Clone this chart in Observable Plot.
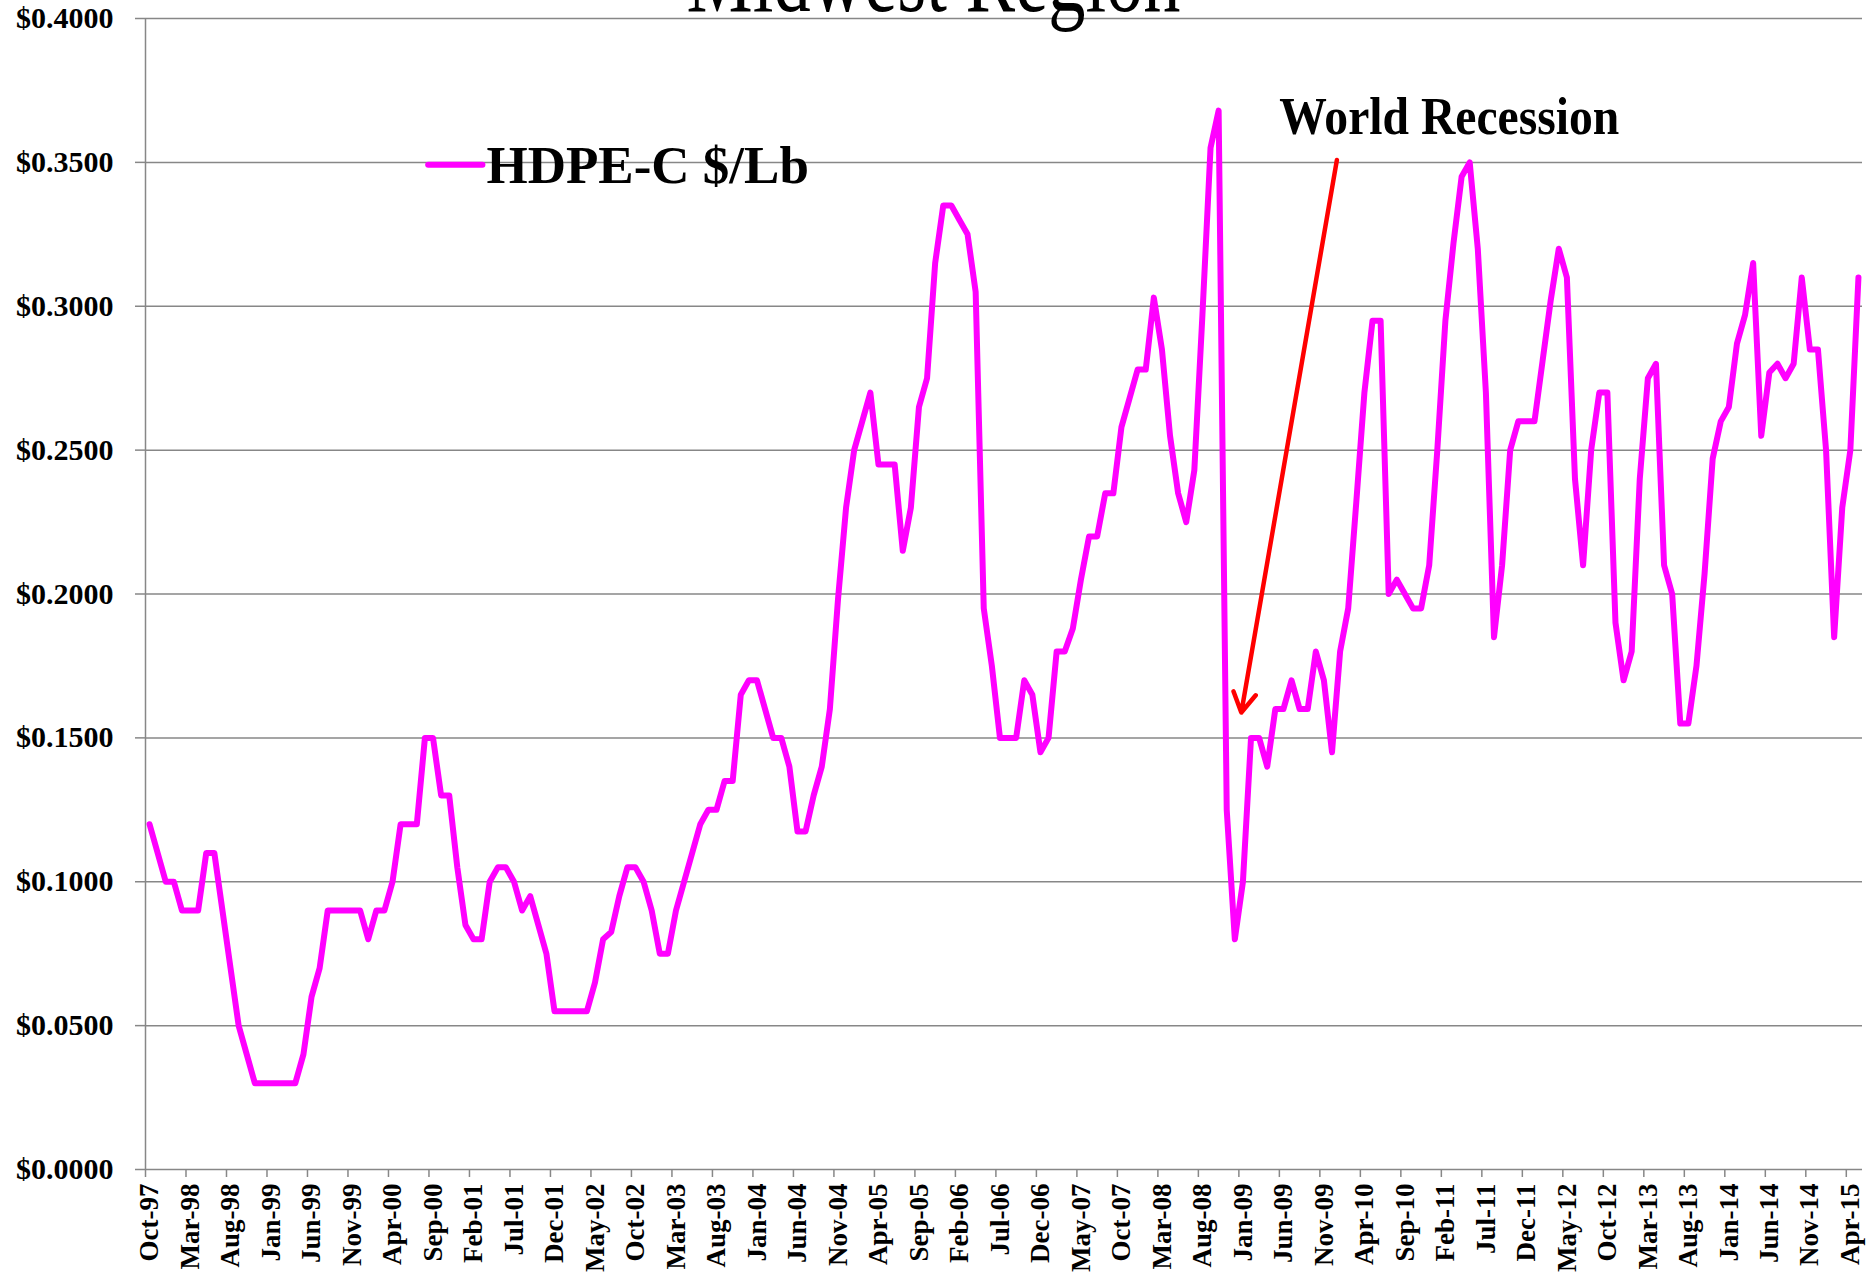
<!DOCTYPE html>
<html>
<head>
<meta charset="utf-8">
<script src="https://cdn.jsdelivr.net/npm/d3@7"></script>
<script src="https://cdn.jsdelivr.net/npm/@observablehq/plot@0.6"></script>
<style>
  html, body { margin: 0; padding: 0; background: #ffffff; overflow: hidden; }
  #chart svg { display: block; }
</style>
</head>
<body>
<div id="chart"></div>
<script>
// ---------- DATA ----------
// Monthly categories Oct-97 .. May-15 (212 months)
const months = d3.utcMonths(new Date(Date.UTC(1997, 9, 1)), new Date(Date.UTC(2015, 5, 1)))
  .map(d3.utcFormat("%b-%y"));

// HDPE-C price, $/Lb
const hdpe = [
  0.12, 0.11, 0.10, 0.10, 0.09, 0.09, 0.09, 0.11, 0.11, 0.09,
  0.07, 0.05, 0.04, 0.03, 0.03, 0.03, 0.03, 0.03, 0.03, 0.04,
  0.06, 0.07, 0.09, 0.09, 0.09, 0.09, 0.09, 0.08, 0.09, 0.09,
  0.10, 0.12, 0.12, 0.12, 0.15, 0.15, 0.13, 0.13, 0.105, 0.085,
  0.08, 0.08, 0.10, 0.105, 0.105, 0.10, 0.09, 0.095, 0.085, 0.075,
  0.055, 0.055, 0.055, 0.055, 0.055, 0.065, 0.08, 0.0825, 0.095, 0.105,
  0.105, 0.10, 0.09, 0.075, 0.075, 0.09, 0.10, 0.11, 0.12, 0.125,
  0.125, 0.135, 0.135, 0.165, 0.17, 0.17, 0.16, 0.15, 0.15, 0.14,
  0.1175, 0.1175, 0.13, 0.14, 0.16, 0.198, 0.23, 0.25, 0.26, 0.27,
  0.245, 0.245, 0.245, 0.215, 0.23, 0.265, 0.275, 0.315, 0.335, 0.335,
  0.33, 0.325, 0.305, 0.195, 0.175, 0.15, 0.15, 0.15, 0.17, 0.165,
  0.145, 0.15, 0.18, 0.18, 0.188, 0.205, 0.22, 0.22, 0.235, 0.235,
  0.258, 0.268, 0.278, 0.278, 0.303, 0.285, 0.255, 0.235, 0.225, 0.243,
  0.297, 0.355, 0.368, 0.125, 0.08, 0.10, 0.15, 0.15, 0.14, 0.16,
  0.16, 0.17, 0.16, 0.16, 0.18, 0.17, 0.145, 0.18, 0.195, 0.232,
  0.27, 0.295, 0.295, 0.20, 0.205, 0.20, 0.195, 0.195, 0.21, 0.25,
  0.295, 0.322, 0.345, 0.35, 0.32, 0.27, 0.185, 0.21, 0.25, 0.26,
  0.26, 0.26, 0.281, 0.302, 0.32, 0.31, 0.24, 0.21, 0.25, 0.27,
  0.27, 0.19, 0.17, 0.18, 0.24, 0.275, 0.28, 0.21, 0.20, 0.155,
  0.155, 0.175, 0.207, 0.247, 0.26, 0.265, 0.287, 0.297, 0.315, 0.255,
  0.277, 0.28, 0.275, 0.28, 0.31, 0.285, 0.285, 0.25, 0.185, 0.23,
  0.25, 0.31
];

const tickLabels = [
  "Oct-97", "Mar-98", "Aug-98", "Jan-99", "Jun-99", "Nov-99", "Apr-00", "Sep-00",
  "Feb-01", "Jul-01", "Dec-01", "May-02", "Oct-02", "Mar-03", "Aug-03", "Jan-04",
  "Jun-04", "Nov-04", "Apr-05", "Sep-05", "Feb-06", "Jul-06", "Dec-06", "May-07",
  "Oct-07", "Mar-08", "Aug-08", "Jan-09", "Jun-09", "Nov-09", "Apr-10", "Sep-10",
  "Feb-11", "Jul-11", "Dec-11", "May-12", "Oct-12", "Mar-13", "Aug-13", "Jan-14",
  "Jun-14", "Nov-14", "Apr-15"
];

const yTicks = [0, 0.05, 0.10, 0.15, 0.20, 0.25, 0.30, 0.35, 0.40];

const titleText = "Midwest Region";
const seriesName = "HDPE-C $/Lb";
const annotationText = "World Recession";

// Annotation anchors (month index, $/Lb)
const titleAt = [{i: 96.8, v: 0.4139, label: titleText}];
const legendLine = [{i: 34.4, v: 0.3492}, {i: 41.1, v: 0.3492}];
const legendLabel = [{i: 41.6, v: 0.3489, label: seriesName}];
const annotationLabel = [{i: 139.5, v: 0.3659, label: annotationText}];
const arrowData = [{i1: 146.6, v1: 0.3508, i2: 134.8, v2: 0.1588}];

// ---------- CHART ----------
const data = hdpe.map((v, i) => ({i, month: months[i], v}));
const tickIdx = tickLabels.map(l => months.indexOf(l));
const xDomain = [-0.5, months.length - 0.5];
const gray = "#878787";
const fontFamily = "'Liberation Serif', 'Times New Roman', serif";

const plot = Plot.plot({
  width: 1868,
  height: 1273,
  marginLeft: 145,
  marginRight: 6,
  marginTop: 18,
  marginBottom: 104,
  style: {fontFamily, background: "#ffffff", color: "#000000", overflow: "visible"},
  x: {type: "linear", domain: xDomain, label: null},
  y: {domain: [0, 0.4], label: null},
  marks: [
    Plot.gridY(yTicks, {stroke: gray, strokeOpacity: 1, strokeWidth: 1.5}),
    Plot.ruleX([xDomain[0]], {stroke: gray, strokeWidth: 1.5}),
    // y-axis ticks and labels
    Plot.axisY({ticks: yTicks, tickSize: 10, tickFormat: () => "", stroke: gray, strokeWidth: 1.5}),
    Plot.axisY({ticks: yTicks, tickSize: 0, tickPadding: 32, tickFormat: d => "$" + d.toFixed(4),
      fontSize: 30, fontWeight: "bold", fill: "#000000"}),
    // x-axis ticks (between categories) and labels (centered on categories)
    Plot.axisX({ticks: tickIdx.map(i => i - 0.5), tickSize: 8, tickFormat: () => "", stroke: gray, strokeWidth: 1.5}),
    Plot.axisX({ticks: tickIdx, tickSize: 0, tickPadding: 14, tickRotate: -90,
      tickFormat: i => months[i], fontSize: 27, fontWeight: "bold", fill: "#000000"}),
    // series
    Plot.lineY(data, {x: "i", y: "v", stroke: "#FF00FF", strokeWidth: 6,
      strokeLinejoin: "round", strokeLinecap: "round"}),
    // legend
    Plot.line(legendLine, {x: "i", y: "v", stroke: "#FF00FF", strokeWidth: 6}),
    Plot.text(legendLabel, {x: "i", y: "v", text: "label", textAnchor: "start", lineAnchor: "middle",
      fontSize: 53, fontWeight: "bold", fill: "#000000"}),
    // title
    Plot.text(titleAt, {x: "i", y: "v", text: "label", textAnchor: "middle", lineAnchor: "middle",
      fontSize: 100, fill: "#000000"}),
    // annotation
    Plot.text(annotationLabel, {x: "i", y: "v", text: "label", textAnchor: "start", lineAnchor: "middle",
      fontSize: 53, fontWeight: "bold", fill: "#000000"}),
    Plot.arrow(arrowData, {x1: "i1", y1: "v1", x2: "i2", y2: "v2", stroke: "#FF0000",
      strokeWidth: 4.5, headLength: 7.5, headAngle: 60})
  ]
});

document.getElementById("chart").appendChild(plot);

// Fit wide text to the widths measured in the reference
const fitText = (content, len) => {
  d3.select(plot).selectAll("text")
    .filter(function () { return this.textContent === content; })
    .attr("textLength", len)
    .attr("lengthAdjust", "spacingAndGlyphs");
};
fitText(titleText, 494);
fitText(annotationText, 340);
</script>
</body>
</html>
